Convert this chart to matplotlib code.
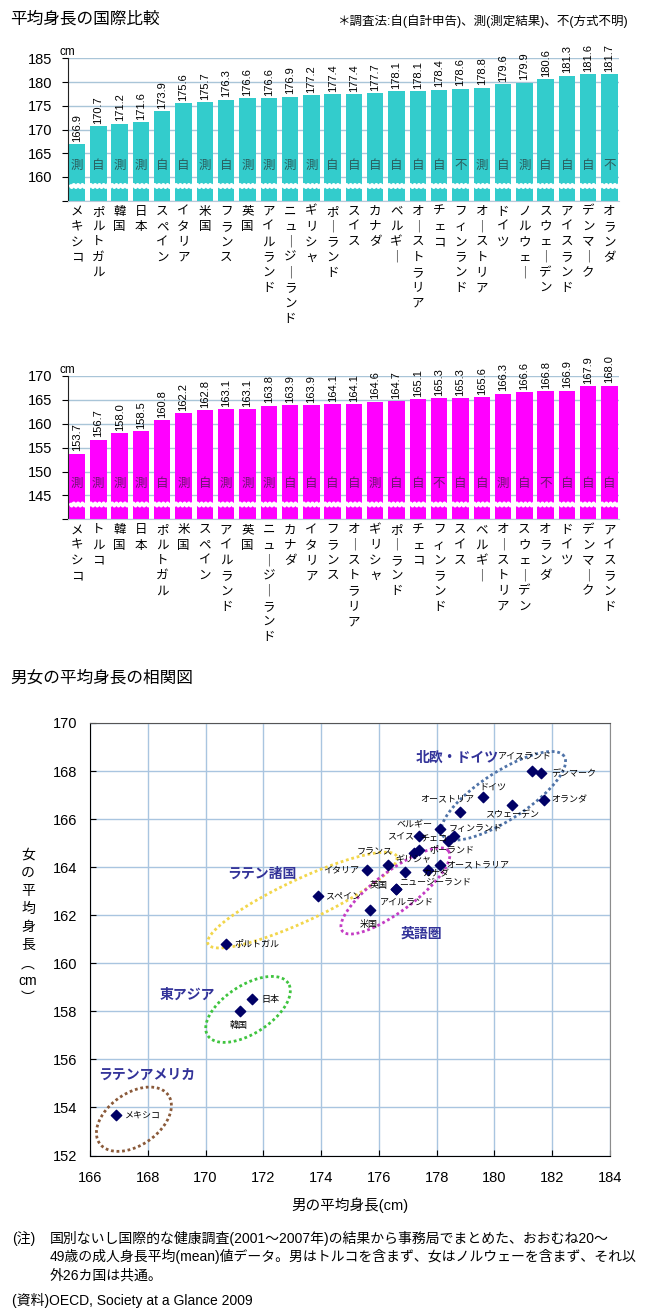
import numpy as np
import matplotlib
matplotlib.use('Agg')
import matplotlib.pyplot as plt

plt.rcParams['font.family'] = ['Liberation Sans', 'Noto Sans CJK JP']

W, H = 655, 1315

# 男性（cm）
men_countries = ['メキシコ', 'ポルトガル', '韓国', '日本', 'スペイン', 'イタリア', '米国', 'フランス',
                 '英国', 'アイルランド', 'ニュージーランド', 'ギリシャ', 'ポーランド', 'スイス', 'カナダ',
                 'ベルギー', 'オーストラリア', 'チェコ', 'フィンランド', 'オーストリア', 'ドイツ',
                 'ノルウェー', 'スウェーデン', 'アイスランド', 'デンマーク', 'オランダ']
men_heights = [166.9, 170.7, 171.2, 171.6, 173.9, 175.6, 175.7, 176.3, 176.6, 176.6, 176.9, 177.2,
               177.4, 177.4, 177.7, 178.1, 178.1, 178.4, 178.6, 178.8, 179.6, 179.9, 180.6, 181.3,
               181.6, 181.7]
men_methods = ['測', '自', '測', '測', '自', '自', '測', '自', '測', '測', '測', '測', '自', '自', '自',
               '自', '自', '自', '不', '測', '自', '測', '自', '自', '自', '不']

# 女性（cm）
women_countries = ['メキシコ', 'トルコ', '韓国', '日本', 'ポルトガル', '米国', 'スペイン', 'アイルランド',
                   '英国', 'ニュージーランド', 'カナダ', 'イタリア', 'フランス', 'オーストラリア', 'ギリシャ',
                   'ポーランド', 'チェコ', 'フィンランド', 'スイス', 'ベルギー', 'オーストリア',
                   'スウェーデン', 'オランダ', 'ドイツ', 'デンマーク', 'アイスランド']
women_heights = [153.7, 156.7, 158.0, 158.5, 160.8, 162.2, 162.8, 163.1, 163.1, 163.8, 163.9, 163.9,
                 164.1, 164.1, 164.6, 164.7, 165.1, 165.3, 165.3, 165.6, 166.3, 166.6, 166.8, 166.9,
                 167.9, 168.0]
women_methods = ['測', '測', '測', '測', '自', '測', '自', '測', '測', '測', '自', '自', '自', '自', '測',
                 '自', '自', '不', '自', '自', '測', '自', '不', '自', '自', '自']

groups = ['北欧・ドイツ', 'ラテン諸国', '英語圏', '東アジア', 'ラテンアメリカ']

# label offsets in pixels (dx, dy) for the scatter
label_off = {
    'メキシコ': (27, 0), 'ポルトガル': (31, 0), '韓国': (-2, -14), '日本': (19, 0),
    'スペイン': (25, 0), 'イタリア': (-26, 0), '米国': (-2, -14), 'フランス': (-13, 13),
    '英国': (-18, 3), 'アイルランド': (11, -13), 'ニュージーランド': (30, -10),
    'ギリシャ': (0, -7), 'ポーランド': (33, 1), 'スイス': (-19, 0), 'カナダ': (8, -4),
    'ベルギー': (-25, 4), 'オーストラリア': (38, 0), 'チェコ': (-15, 2), 'フィンランド': (22, 7),
    'オーストリア': (-13, 13), 'ドイツ': (10, 10), 'スウェーデン': (0, -10),
    'アイスランド': (-7, 15), 'デンマーク': (33, 0), 'オランダ': (26, 0),
}
# group label position (data) and ellipse (center data, major px, minor px, angle, colour)
group_style = {
    '北欧・ドイツ': ((178.70, 168.56), (180.31, 166.97), 145, 48, 33, '#4f73a8'),
    'ラテン諸国': ((171.94, 163.74), (173.35, 162.63), 208, 42, 25, '#f2d64b'),
    '英語圏': ((177.48, 161.22), (176.57, 163.01), 133, 40, 37, '#c43cc4'),
    '東アジア': ((169.37, 158.71), (171.47, 158.08), 96, 48, 33, '#3fc43f'),
    'ラテンアメリカ': ((167.97, 155.35), (167.52, 153.51), 84, 52, 35, '#8a5a3a'),
}

fig = plt.figure(figsize=(W / 100, H / 100), dpi=100)


def px_axes(left, top, right, bottom):
    return fig.add_axes([left / W, 1 - bottom / H, (right - left) / W, (bottom - top) / H])


def bar_chart(ax, names, vals, methods, ymin, color, mcolor):
    x = np.arange(len(names))
    ax.bar(x, vals, width=0.77, color=color, zorder=1)
    ax.set_xlim(-0.437, len(names) - 1 + 0.445)
    ax.set_ylim(ymin, ymin + 30)
    ticks = np.arange(ymin, ymin + 31, 5)
    ax.set_yticks(ticks)
    ax.set_yticklabels([''] + [str(int(t)) for t in ticks[1:]], fontsize=10.5)
    ax.set_xticks([])
    ax.grid(axis='y', color='#a9c5d8', linewidth=1)
    ax.set_axisbelow(True)
    for s in ['top', 'right']:
        ax.spines[s].set_visible(False)
    ax.spines['bottom'].set_color('#b8c8d8')
    ax.spines['left'].set_color('#222222')
    ax.tick_params(axis='y', length=4, pad=7, direction='out')
    ax.text(0, 1.0, 'cm', transform=ax.transAxes, ha='center', va='bottom', fontsize=8.5)
    for i, v in enumerate(vals):
        ax.text(i, v + 0.5, f'{v:.1f}', rotation=90, ha='center', va='bottom',
                fontsize=8, clip_on=False)
        ax.text(i, ymin + 7.3, methods[i], ha='center', va='center', fontsize=9, color=mcolor)
    # broken axis wave
    xw = np.linspace(-0.3, len(names), 2000)
    ax.plot(xw, ymin + 3.1 + 0.3 * np.sin(2 * np.pi * xw / 0.2), color='white', lw=2.3, zorder=2.2)
    # vertical country names
    for i, name in enumerate(names):
        for k, ch in enumerate(name.replace('ー', '｜')):
            ax.annotate(ch, xy=(i, 0), xycoords=('data', 'axes fraction'),
                        xytext=(0, -11 - k * 15.3), textcoords='offset pixels',
                        ha='center', va='center', fontsize=9, annotation_clip=False)


fig.text(10 / W, 1 - 19 / H, '平均身長の国際比較', fontsize=12, va='center', ha='left')
fig.text(628 / W, 1 - 21 / H, '＊調査法:自(自計申告)、測(測定結果)、不(方式不明)', fontsize=9,
         va='center', ha='right')

ax1 = px_axes(67.7, 58.3, 619, 200.7)
bar_chart(ax1, men_countries, men_heights, men_methods, 155, '#33cccc', '#2a5e5e')

ax2 = px_axes(67.7, 376, 619, 519.3)
bar_chart(ax2, women_countries, women_heights, women_methods, 140, '#ff00ff', '#6e1470')

fig.text(10 / W, 1 - 678 / H, '男女の平均身長の相関図', fontsize=12, va='center', ha='left')

# scatter
ax3 = px_axes(90, 723, 610, 1155.5)
men_d = dict(zip(men_countries, men_heights))
women_d = dict(zip(women_countries, women_heights))
common = [c for c in men_countries if c in women_d]
xs = [men_d[c] for c in common]
ys = [women_d[c] for c in common]
ax3.set_xlim(166, 184)
ax3.set_ylim(152, 170)
ax3.set_xticks(np.arange(166, 185, 2))
ax3.set_yticks(np.arange(152, 171, 2))
ax3.tick_params(direction='in', length=4, labelsize=10.5)
ax3.tick_params(axis='x', pad=11)
ax3.tick_params(axis='y', pad=9)
ax3.grid(color='#a9c5e0', linewidth=1)
ax3.set_axisbelow(True)
ax3.spines['right'].set_color('#8c8c8c')
ax3.spines['top'].set_color('#555555')
ax3.scatter(xs, ys, marker='D', s=28, color='#000066', zorder=4)
for c, xv, yv in zip(common, xs, ys):
    dx, dy = label_off[c]
    ax3.annotate(c, (xv, yv), xytext=(dx, dy), textcoords='offset pixels', ha='center',
                 va='center', fontsize=6.5, zorder=5)

sx = 520 / 18
sy = 432.5 / 18
t = np.linspace(0, 2 * np.pi, 300)
for g in groups:
    (lx, ly), (cx, cy), major, minor, ang, col = group_style[g]
    a, b, th = major / 2, minor / 2, np.radians(ang)
    ex, ey = a * np.cos(t), b * np.sin(t)
    ax3.plot(cx + (ex * np.cos(th) - ey * np.sin(th)) / sx,
             cy + (ex * np.sin(th) + ey * np.cos(th)) / sy,
             color=col, lw=2, linestyle=(0, (1, 1)), zorder=3)
    ax3.text(lx, ly, g, ha='center', va='center', fontsize=10, fontweight='bold',
             color='#333399', zorder=6)

ylab = ['女', 'の', '平', '均', '身', '長', '︵', 'cm', '︶']
ypos = [855, 873, 891, 909, 927, 945, 964, 981, 998]
for ch, yp in zip(ylab, ypos):
    fig.text(28 / W, 1 - yp / H, ch, fontsize=10, ha='center', va='center')
fig.text(350 / W, 1 - 1205 / H, '男の平均身長(cm)', fontsize=10.5, ha='center', va='center')

fig.text(12 / W, 1 - 1238 / H, '(注)', fontsize=10, ha='left', va='center')
notes = ['国別ないし国際的な健康調査(2001～2007年)の結果から事務局でまとめた、おおむね20～',
         '49歳の成人身長平均(mean)値データ。男はトルコを含まず、女はノルウェーを含まず、それ以',
         '外26カ国は共通。']
for k, line in enumerate(notes):
    fig.text(50 / W, 1 - (1238 + 18.5 * k) / H, line, fontsize=10, ha='left', va='center')
fig.text(12 / W, 1 - 1300 / H, '(資料)OECD, Society at a Glance 2009', fontsize=10, ha='left', va='center')

fig.savefig('out.png', dpi=100)
